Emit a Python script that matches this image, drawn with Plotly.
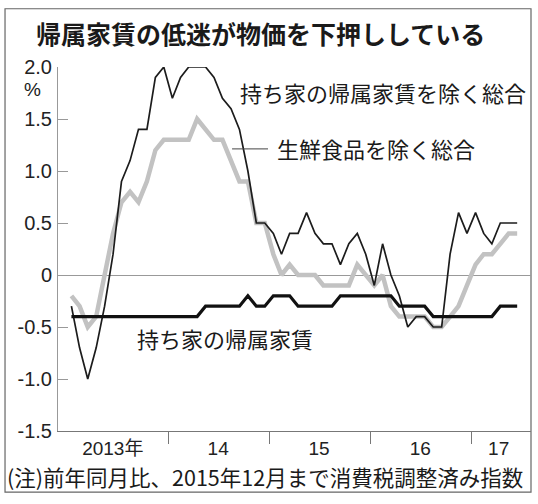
import pandas as pd
import plotly.graph_objects as go

# 月次データ(2013年1月〜2017年6月)、前年同月比 %
months = pd.date_range("2013-01-01", periods=54, freq="MS")

# 持ち家の帰属家賃を除く総合
total_ex_rent = [
    -0.3, -0.7, -1.0, -0.7, -0.3, 0.2, 0.9, 1.1, 1.4, 1.4, 1.9, 2.0,
    1.7, 1.9, 2.0, 2.0, 2.0, 1.9, 1.7, 1.6, 1.4, 1.0, 0.5, 0.5,
    0.4, 0.2, 0.4, 0.4, 0.6, 0.4, 0.3, 0.3, 0.1, 0.3, 0.4, 0.2,
    -0.1, 0.3, 0.0, -0.2, -0.5, -0.4, -0.4, -0.5, -0.5, 0.2, 0.6, 0.4,
    0.6, 0.4, 0.3, 0.5, 0.5, 0.5,
]

# 生鮮食品を除く総合
core = [
    -0.2, -0.3, -0.5, -0.4, 0.0, 0.4, 0.7, 0.8, 0.7, 0.9, 1.2, 1.3,
    1.3, 1.3, 1.3, 1.5, 1.4, 1.3, 1.3, 1.1, 0.9, 0.9, 0.5, 0.5,
    0.2, 0.0, 0.1, 0.0, 0.0, 0.0, -0.1, -0.1, -0.1, -0.1, 0.1, 0.0,
    -0.1, 0.0, -0.3, -0.4, -0.4, -0.4, -0.4, -0.5, -0.5, -0.4, -0.3, -0.1,
    0.1, 0.2, 0.2, 0.3, 0.4, 0.4,
]

# 持ち家の帰属家賃
imputed_rent = [
    -0.4, -0.4, -0.4, -0.4, -0.4, -0.4, -0.4, -0.4, -0.4, -0.4, -0.4, -0.4,
    -0.4, -0.4, -0.4, -0.4, -0.3, -0.3, -0.3, -0.3, -0.3, -0.2, -0.3, -0.3,
    -0.2, -0.2, -0.2, -0.3, -0.3, -0.3, -0.3, -0.3, -0.2, -0.2, -0.2, -0.2,
    -0.2, -0.2, -0.2, -0.3, -0.3, -0.3, -0.3, -0.4, -0.4, -0.4, -0.4, -0.4,
    -0.4, -0.4, -0.4, -0.3, -0.3, -0.3,
]

year_labels = ["2013年", "14", "15", "16", "17"]
y_ticks = [-1.5, -1.0, -0.5, 0, 0.5, 1.0, 1.5, 2.0]
y_labels = ["-1.5", "-1.0", "-0.5", "0", "0.5", "1.0", "1.5", "2.0"]

JP = "Noto Sans CJK JP"
NUM = "Liberation Sans, Noto Sans CJK JP"

fig = go.Figure()

def add_line(y, color, width):
    fig.add_trace(go.Scatter(
        x=months, y=y, mode="lines",
        xperiod="M1", xperiodalignment="middle",
        line=dict(color=color, width=width),
        hoverinfo="skip",
    ))

add_line(core, "#c2c2c2", 4.5)
add_line(total_ex_rent, "#1c1c1c", 1.7)
add_line(imputed_rent, "#111111", 3.2)

fig.update_layout(
    width=538, height=504,
    margin=dict(l=58, r=7, t=67, b=73),
    paper_bgcolor="white", plot_bgcolor="white",
    showlegend=False,
    font=dict(family=NUM, color="#222"),
)

fig.update_xaxes(
    type="date",
    range=["2012-11-29", "2017-08-05"],
    showline=True, linecolor="#777", linewidth=1,
    showgrid=False, zeroline=False,
    tickmode="array",
    tickvals=["2013-06-15", "2014-07-01", "2015-07-01", "2016-07-01", "2017-04-10"],
    ticktext=year_labels,
    ticks="",
    tickfont=dict(family=NUM, size=19, color="#222"),
    minor=dict(
        tickmode="array",
        tickvals=["2014-01-01", "2015-01-01", "2016-01-01", "2017-01-01"],
        ticks="outside", ticklen=12, tickcolor="#777", tickwidth=1,
        showgrid=False,
    ),
)

fig.update_yaxes(
    range=[-1.5, 2.0],
    showline=True, linecolor="#999", linewidth=1,
    showgrid=False,
    zeroline=True, zerolinecolor="#999", zerolinewidth=1,
    tickmode="array", tickvals=y_ticks, ticktext=y_labels,
    ticks="inside", ticklen=10, tickcolor="#999",
    ticklabelstandoff=1,
    tickfont=dict(family=NUM, size=20, color="#222"),
)

# 外枠
fig.add_shape(type="rect", xref="paper", yref="paper",
              x0=-0.112, x1=1.0, y0=-0.168, y1=1.16,
              line=dict(color="#666", width=1.2), layer="below")

# 生鮮食品を除く総合 の引き出し線
fig.add_shape(type="line", xref="paper", yref="paper",
              x0=0.368, x1=0.444, y0=0.775, y1=0.775,
              line=dict(color="#444", width=1))

def note(text, x, y, size, xanchor="left", family=JP):
    fig.add_annotation(text=text, xref="paper", yref="paper", x=x, y=y,
                       xanchor=xanchor, yanchor="middle", showarrow=False,
                       font=dict(family=family, size=size, color="#1a1a1a"))

note("<b>帰属家賃の低迷が物価を下押ししている</b>", 0.429, 1.093, 25, "center")
note("%", -0.053, 0.937, 19, "center", NUM)
note("持ち家の帰属家賃を除く総合", 0.3805, 0.931, 22)
note("生鮮食品を除く総合", 0.459, 0.777, 22)
note("持ち家の帰属家賃", 0.163, 0.2555, 22)
note("(注)前年同月比、2015年12月まで消費税調整済み指数", -0.112, -0.124, 21.5)

# ページ既定の余白をなくして、図をウィンドウ左上に合わせる
fig.write_html("out.html", config={"displayModeBar": False},
               post_script="document.body.style.margin='0';")
